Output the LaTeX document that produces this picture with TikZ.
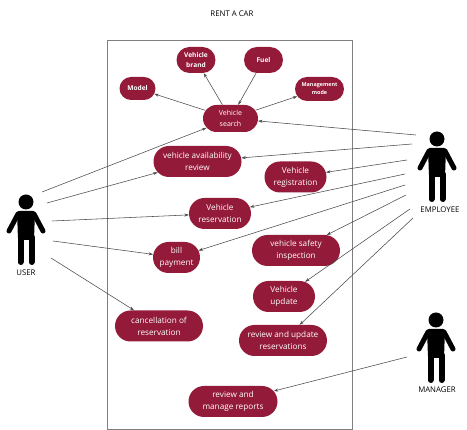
\documentclass[tikz,border=0pt]{standalone}
\usepackage{fontspec}
\setmainfont{Open Sans}
\usepackage{tikz}
\usetikzlibrary{shapes}
\usetikzlibrary{arrows.meta}
\definecolor{ucred}{HTML}{931A38}
\definecolor{linegray}{HTML}{4A4A4A}
\tikzset{
  usecase/.style={rounded rectangle, fill=ucred, text=white, align=center, inner sep=0pt,
    minimum height=31pt, font=\fontsize{8.2}{12}\selectfont},
  smallcase/.style={usecase, minimum height=26pt, font=\fontsize{6.6}{10}\selectfont\bfseries},
  link/.style={draw=linegray, line width=0.55pt, -{Stealth[length=4.5pt,width=3pt]}},
  actorname/.style={text=black, font=\fontsize{7.8}{9}\selectfont}
}
\newcommand{\actorfig}[2]{
  \fill[black] (#1,#2) circle (7.5);
  \fill[black, rounded corners=2pt] (#1-9,#2+9) -- (#1+9,#2+9) -- (#1+8,#2+38) -- (#1-8,#2+38) -- cycle;
  \draw[black, line width=5pt, line cap=round] (#1-8,#2+12) -- (#1-17,#2+29);
  \draw[black, line width=5pt, line cap=round] (#1+8,#2+12) -- (#1+17,#2+29);
  \draw[black, line width=6pt, line cap=round] (#1-5.5,#2+35) -- (#1-5.5,#2+60);
  \draw[black, line width=6pt, line cap=round] (#1+5.5,#2+35) -- (#1+5.5,#2+60);
}
\begin{document}
\begin{tikzpicture}[x=1pt,y=-1pt]
        \useasboundingbox (0,0) rectangle (467,430);

        \node (title) at (232,14) [font=\fontsize{7.8}{9}\selectfont] {RENT A CAR};
        \draw[draw=gray, line width=0.7pt] (107,40) rectangle (352,429);

        % actors
        \actorfig{26}{202}
        \actorfig{437}{139}
        \actorfig{436}{320}
        \node (user) at (26,273) [actorname] {USER};
        \node (employee) at (440,210) [actorname] {EMPLOYEE};
        \node (manager) at (437,390) [actorname] {MANAGER};

        % use cases
        \node (search) at (230.5,118.5) [usecase, minimum width=55pt, minimum height=27pt, font=\fontsize{7}{11}\selectfont] {Vehicle\\search};
        \node (model) at (137.5,88.5) [smallcase, minimum width=36pt, minimum height=23pt] {Model};
        \node (brand) at (196,60) [smallcase, minimum width=39pt] {Vehicle\\brand};
        \node (fuel) at (263.5,60) [smallcase, minimum width=39pt] {Fuel};
        \node (mode) at (319.5,89) [smallcase, minimum width=49pt, minimum height=24pt, font=\fontsize{5.4}{8}\selectfont\bfseries] {Management\\mode};
        \node (avail) at (197.5,161.5) [usecase, minimum width=88pt] {vehicle availability\\review};
        \node (regist) at (295.5,177) [usecase, minimum width=62pt] {Vehicle\\registration};
        \node (reserv) at (220,213.5) [usecase, minimum width=62pt] {Vehicle\\reservation};
        \node (bill) at (176.5,257.5) [usecase, minimum width=47pt] {bill\\payment};
        \node (safety) at (296,250.5) [usecase, minimum width=88pt] {vehicle safety\\inspection};
        \node (update) at (284,296.5) [usecase, minimum width=62pt] {Vehicle\\update};
        \node (cancel) at (159,326) [usecase, minimum width=88pt] {cancellation of\\reservation};
        \node (revres) at (283,340.5) [usecase, minimum width=88pt] {review and update\\reservations};
        \node (revrep) at (233,401.5) [usecase, minimum width=89pt] {review and\\manage reports};

        % free ends at the actors
        \coordinate (u1) at (42,192);
        \coordinate (u2) at (47,203);
        \coordinate (u3) at (52,221);
        \coordinate (u4) at (53,241);
        \coordinate (u5) at (51,258);
        \coordinate (e1) at (416,135);
        \coordinate (e2) at (412,144);
        \coordinate (e3) at (407,160);
        \coordinate (e4) at (405,174);
        \coordinate (e5) at (405,185);
        \coordinate (e6) at (406,195);
        \coordinate (e7) at (410,209);
        \coordinate (e8) at (413,218);
        \coordinate (m1) at (407,357);

        % search links
        \draw[link] (search) -- (model);
        \draw[link] (search) -- (brand);
        \draw[link] (fuel) -- (search);
        \draw[link] (search) -- (mode);

        % user links
        \draw[link] (u1) -- (search);
        \draw[link] (u2) -- (avail);
        \draw[link] (u3) -- (reserv);
        \draw[link] (u4) -- (bill);
        \draw[link] (u5) -- (cancel);

        % employee links
        \draw[link] (e1) -- (search);
        \draw[link] (e2) -- (avail);
        \draw[link] (e3) -- (regist);
        \draw[link] (e4) -- (reserv);
        \draw[link] (e5) -- (bill);
        \draw[link] (e6) -- (safety);
        \draw[link] (e7) -- (update);
        \draw[link] (e8) -- (revres);

        % manager link
        \draw[link] (m1) -- (revrep);
\end{tikzpicture}
\end{document}
